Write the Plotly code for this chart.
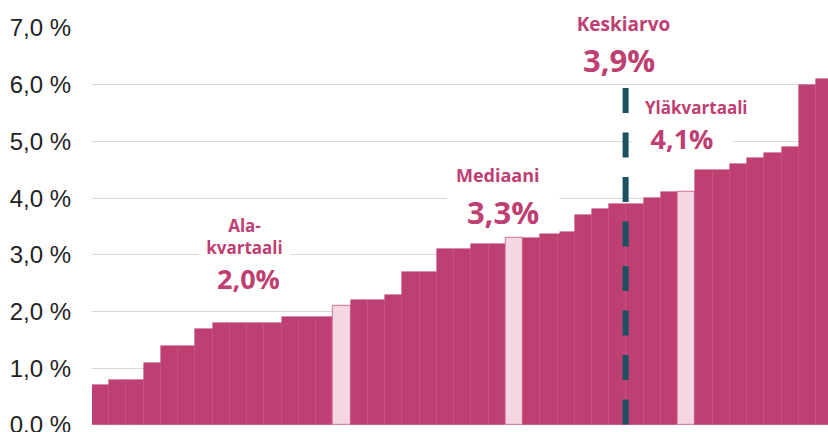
import plotly.graph_objects as go

values = [0.7, 0.8, 0.8, 1.1, 1.4, 1.4, 1.7, 1.8, 1.8, 1.8, 1.8, 1.9, 1.9, 1.9,
          2.1, 2.2, 2.2, 2.3, 2.7, 2.7, 3.1, 3.1, 3.2, 3.2, 3.3, 3.3, 3.4, 3.4,
          3.7, 3.8, 3.9, 3.9, 4.0, 4.1, 4.1, 4.5, 4.5, 4.6, 4.7, 4.8, 4.9, 6.0, 6.1]
highlight = [14, 24, 34]  # lower quartile, median, upper quartile bars
tick_vals = [0, 1, 2, 3, 4, 5, 6, 7]
tick_text = ["0.0 %", "1,0 %", "2,0 %", "3,0 %", "4,0 %", "5,0 %", "6,0 %", "7,0 %"]
mean_value = 3.9
mean_pos = 30.45
Y_MAX = 7

MAIN = "#BE4072"
LIGHT = "#F4D7E3"
DARK = "#1A5163"

x = list(range(len(values)))
colors = [LIGHT if i in highlight else MAIN for i in x]
line_colors = ["#D986A7" if i in highlight else "#C34D7D" for i in x]
line_widths = [1.2 if i in highlight else 0.6 for i in x]

fig = go.Figure()
fig.add_trace(go.Bar(
    x=x, y=values,
    marker=dict(color=colors, line=dict(color=line_colors, width=line_widths)),
    hoverinfo="skip",
))

fig.add_shape(type="line", x0=mean_pos, x1=mean_pos, y0=5.944, y1=0,
              xref="x", yref="y", layer="above",
              line=dict(color=DARK, width=6, dash="25px,19.5px"))

font_fam = "Open Sans"
def ann(text, xv, yv, size, width=None):
    d = dict(text=text, x=xv, y=yv / Y_MAX, xref="x", yref="paper", showarrow=False,
             font=dict(family=font_fam, size=size, color=MAIN, weight="bold"),
             bgcolor="white", borderpad=0, xanchor="center", yanchor="middle")
    if width:
        d["width"] = width
    fig.add_annotation(**d)

ann("Ala-<br>kvartaali", 8.32, 3.33, 17, width=91)
ann("2,0%", 8.58, 2.59, 27)
ann("Mediaani", 23.02, 4.41, 18)
ann("3,3%", 23.34, 3.76, 31, width=112)
ann("Keskiarvo", 30.3, 7.07, 19, width=111)
ann("3,9%", 30.07, 6.44, 31)
ann("Yläkvartaali", 34.54, 5.59, 17)
ann("4,1%", 33.73, 5.06, 27, width=100)

fig.update_layout(
    width=828, height=440,
    margin=dict(l=92, r=0, t=28, b=15, autoexpand=False),
    paper_bgcolor="white", plot_bgcolor="white",
    bargap=0, showlegend=False,
    xaxis=dict(range=[-0.5, 42.19], showgrid=False, showticklabels=False,
               zeroline=False, showline=False, fixedrange=True, automargin=False),
    yaxis=dict(range=[0, Y_MAX], tickvals=tick_vals, ticktext=tick_text,
               showgrid=True, gridcolor="#D9D9D9", gridwidth=1.3,
               zeroline=False, showline=False, ticks="", automargin=False,
               fixedrange=True, ticklabelstandoff=20,
               tickfont=dict(family="Liberation Sans, Arial", size=24, color="#222222")),
)

fig.write_html("out.html", config={"displayModeBar": False},
               post_script="document.body.style.margin='0';document.documentElement.style.overflow='hidden';document.body.style.overflow='hidden';")
